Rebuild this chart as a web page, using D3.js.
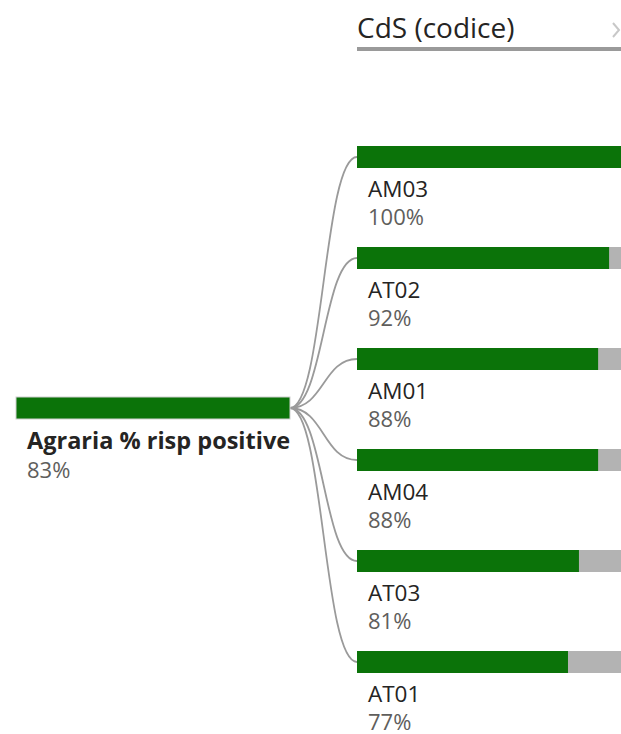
<!DOCTYPE html>
<html>
<head>
<meta charset="utf-8">
<script src="https://cdn.jsdelivr.net/npm/d3@7"></script>
<style>
  body { margin: 0; background: #fff; }
  .Chart { width: 621px; height: 734px; overflow: hidden; }
  text { font-family: "Open Sans", "Segoe UI", sans-serif; }
</style>
</head>
<body>
<div class="Chart"></div>
<script>
const levelTitle = "CdS (codice)";
const rootLabel = "Agraria % risp positive";
const rootValue = 0.83;
const categories = ["AM03", "AT02", "AM01", "AM04", "AT03", "AT01"];
const values = [1.00, 0.92, 0.88, 0.88, 0.81, 0.77];

const w = 621;
const h = 734;
const barW = 274;
const barH = 22;
const rootX = 16;
const rootY = 397;
const childX = 357;

const green = "#0b7309";
const rest = "#b3b3b3";

const svg = d3
  .select(".Chart")
  .append("svg")
  .attr("width", w)
  .attr("height", h);

const xScale = d3.scaleLinear().domain([0, 1]).range([0, barW]);
const yScale = d3.scalePoint().domain(categories).range([146, 651]);

const pct = d3.format(".0%");

// header
svg
  .append("text")
  .attr("x", childX)
  .attr("y", 38)
  .attr("font-size", 28)
  .attr("font-family", "Roboto, sans-serif")
  .attr("fill", "#252423")
  .text(levelTitle);

svg
  .append("rect")
  .attr("x", childX)
  .attr("y", 47)
  .attr("width", w - childX)
  .attr("height", 4)
  .attr("fill", "#9a9a9a");

svg
  .append("path")
  .attr("d", "M613,23 L619,30 L613,37")
  .attr("fill", "none")
  .attr("stroke", "#c8c8c8")
  .attr("stroke-width", 2);

// links
const link = d3.linkHorizontal();
svg
  .selectAll("path.link")
  .data(categories)
  .enter()
  .append("path")
  .attr("class", "link")
  .attr("d", d =>
    link({ source: [rootX + barW, rootY + barH / 2], target: [childX, yScale(d) + barH / 2] })
  )
  .attr("fill", "none")
  .attr("stroke", "#9a9a9a")
  .attr("stroke-width", 1.8);

// root node
svg
  .append("rect")
  .attr("x", rootX)
  .attr("y", rootY)
  .attr("width", barW)
  .attr("height", barH)
  .attr("fill", green)
  .attr("stroke", "#d0d0d0")
  .attr("stroke-width", 1);

svg
  .append("text")
  .attr("x", 27)
  .attr("y", 449)
  .attr("font-size", 23.5)
  .attr("font-weight", "bold")
  .attr("fill", "#252423")
  .text(rootLabel);

svg
  .append("text")
  .attr("x", 27)
  .attr("y", 478)
  .attr("font-size", 22)
  .attr("fill", "#605e5c")
  .text(pct(rootValue));

// child nodes
const nodes = svg
  .selectAll("g.node")
  .data(categories)
  .enter()
  .append("g")
  .attr("class", "node")
  .attr("transform", d => "translate(" + childX + "," + yScale(d) + ")");

nodes
  .append("rect")
  .attr("width", barW)
  .attr("height", barH)
  .attr("fill", rest);

nodes
  .append("rect")
  .attr("width", (d, i) => xScale(values[i]))
  .attr("height", barH)
  .attr("fill", green);

nodes
  .append("text")
  .attr("x", 11)
  .attr("y", 51)
  .attr("font-size", 22.5)
  .attr("fill", "#252423")
  .text(d => d);

nodes
  .append("text")
  .attr("x", 11)
  .attr("y", 79)
  .attr("font-size", 22)
  .attr("fill", "#605e5c")
  .text((d, i) => pct(values[i]));
</script>
</body>
</html>
